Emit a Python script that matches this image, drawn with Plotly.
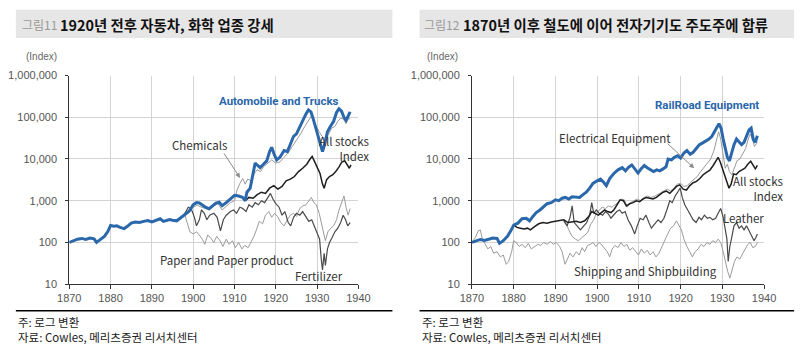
import plotly.graph_objects as go

W, H = 811, 352

# ---------------- Left chart data (그림11) ----------------
auto_years = [1870, 1871, 1872, 1873, 1874, 1875, 1876, 1876.6, 1877.5, 1878.5, 1879.3, 1880, 1880.8, 1881.5, 1882.3,
              1883.3, 1884, 1885, 1886, 1887, 1888, 1889, 1890, 1891, 1892, 1892.8, 1893.5, 1894.3, 1895, 1896,
              1897, 1898, 1899, 1900, 1900.8, 1901.5, 1902.2, 1903, 1903.8, 1904.5, 1905.5, 1906.3, 1907, 1908,
              1909, 1910, 1911, 1912, 1912.6, 1913, 1913.8, 1914.5, 1915, 1915.6, 1916.2, 1917, 1917.8, 1918.5,
              1919, 1919.6, 1920.2, 1921, 1922, 1922.8, 1923.5, 1924.3, 1925, 1925.8, 1926.6, 1927.3, 1927.9,
              1928.5, 1929, 1929.6, 1930.2, 1930.8, 1931.3, 1931.8, 1932.5, 1933.2, 1934, 1934.7, 1935.3, 1935.9,
              1936.5, 1937, 1937.5, 1938]
auto_vals = [100, 112, 120, 125, 118, 128, 122, 100, 115, 140, 180, 255, 245, 250, 230,
             215, 240, 290, 310, 300, 320, 335, 310, 345, 370, 320, 330, 355, 340, 330,
             390, 460, 560, 800, 900, 880, 780, 700, 640, 720, 880, 920, 760, 900,
             1100, 1350, 1300, 1200, 1000, 1600, 2000, 4500, 8000, 7000, 6200, 7500, 9000, 15000,
             19000, 13000, 9500, 11000, 16000, 15000, 22000, 35000, 40000, 60000, 90000, 120000, 150000,
             135000, 95000, 60000, 40000, 25000, 15000, 22000, 45000, 60000, 80000, 130000, 160000, 140000,
             100000, 85000, 110000, 135000]

chem_years = [1898, 1899, 1900, 1901, 1902, 1903, 1904, 1905, 1906, 1907, 1908, 1909, 1910, 1910.6, 1911.3,
              1912, 1912.6, 1913.2, 1914, 1914.8, 1915.5, 1916.3, 1917, 1918, 1919, 1920, 1921, 1922, 1923,
              1924, 1925, 1926, 1927, 1928, 1928.7, 1929.2, 1929.8, 1930.5, 1931.2, 1932, 1932.8, 1933.5,
              1934.3, 1935, 1935.7, 1936.4, 1937, 1937.6, 1938]
chem_vals = [450, 520, 700, 780, 700, 650, 600, 750, 850, 600, 750, 900, 1000, 1800, 2600,
             3400, 2500, 3300, 3000, 4500, 5500, 5000, 6500, 8000, 9500, 8000, 8500, 11000, 14000,
             20000, 28000, 40000, 60000, 90000, 110000, 80000, 60000, 45000, 35000, 30000, 40000, 55000,
             60000, 80000, 95000, 90000, 70000, 95000, 90000]

left_all_years = [1912.6, 1913.5, 1914.5, 1915.5, 1916.5, 1917.5, 1918.5, 1919.5, 1920.5, 1921.5, 1922.5, 1923.5,
                  1924.5, 1925.5, 1926.5, 1927.5, 1928.3, 1928.8, 1929.3, 1930, 1930.7, 1931.3, 1931.7, 1932.3,
                  1933, 1933.8, 1934.5, 1935.3, 1936, 1936.7, 1937.3, 1937.8, 1938.2]
left_all_vals = [1000, 1200, 1150, 1400, 1600, 1500, 2000, 2300, 1900, 2200, 3000, 3300,
                 3800, 5000, 6000, 7500, 10000, 11500, 9000, 6500, 4500, 2500, 2000, 3200,
                 3800, 4200, 5000, 6500, 8500, 9000, 7000, 6000, 7200]

fert_years = [1898, 1898.8, 1899.5, 1900.3, 1900.8, 1901.5, 1902, 1902.7, 1903.3, 1904, 1905, 1905.8, 1906.6,
              1907.3, 1908, 1909, 1909.8, 1910.5, 1911.3, 1912, 1912.8, 1913.5, 1914.3, 1915, 1915.8, 1916.5,
              1917.3, 1918, 1918.7, 1919.3, 1920, 1920.8, 1921.5, 1922.2, 1923, 1923.6, 1924.3, 1925, 1925.8,
              1926.5, 1927.3, 1928, 1928.7, 1929.3, 1930, 1930.6, 1931, 1931.3, 1931.7, 1932, 1932.5, 1933,
              1933.6, 1934.3, 1935, 1935.7, 1936.3, 1936.9, 1937.4, 1938]
fert_vals = [500, 700, 650, 400, 250, 350, 600, 500, 350, 450, 500, 400, 190,
             350, 450, 550, 600, 500, 700, 650, 550, 800, 700, 900, 800, 1000,
             900, 1200, 1500, 1100, 850, 700, 450, 550, 300, 250, 400, 500, 450,
             550, 400, 320, 350, 250, 180, 120, 40, 22, 55, 28, 70, 100,
             130, 180, 220, 300, 450, 350, 250, 300]

paper_years = [1898, 1898.6, 1899.2, 1900, 1900.8, 1901.5, 1902.2, 1902.8, 1903.5, 1904.2, 1905, 1905.7, 1906.5,
               1907.2, 1908, 1908.7, 1909.5, 1910.2, 1911, 1911.8, 1912.5, 1913.3, 1914, 1914.7, 1915.3, 1916,
               1916.8, 1917.5, 1918.3, 1919, 1919.7, 1920.4, 1921.2, 1922, 1922.8, 1923.5, 1924.3, 1925, 1925.8,
               1926.5, 1927.3, 1928, 1928.6, 1929.2, 1929.8, 1930.5, 1931, 1931.5, 1932, 1932.6, 1933.3, 1934,
               1934.7, 1935.3, 1936, 1936.5, 1937, 1937.5, 1938]
paper_vals = [450, 300, 180, 160, 180, 150, 120, 90, 150, 130, 100, 140, 110,
              80, 120, 90, 110, 75, 100, 70, 85, 75, 100, 140, 200, 320,
              280, 450, 550, 400, 500, 420, 300, 250, 350, 450, 500, 420, 650,
              750, 800, 1000, 1200, 900, 800, 500, 300, 160, 110, 180, 220, 250,
              350, 600, 900, 1300, 700, 450, 650]

# ---------------- Right chart data (그림12) ----------------
rail_years = [1870, 1871, 1872, 1873, 1874, 1875, 1876, 1876.6, 1877.5, 1878.5, 1879.3, 1880, 1881, 1882, 1883,
              1883.8, 1884.6, 1885.4, 1886.3, 1887, 1888, 1889, 1890, 1890.8, 1891.6, 1892.4, 1893.2, 1894,
              1895, 1895.8, 1896.6, 1897.4, 1898.2, 1899, 1900, 1900.8, 1901.5, 1902.2, 1903, 1904, 1905,
              1906, 1906.8, 1907.5, 1908.3, 1909, 1909.8, 1910.5, 1911.3, 1912, 1912.8, 1913.5, 1914.3, 1915,
              1915.8, 1916.5, 1917, 1917.8, 1918.5, 1919.3, 1920, 1920.8, 1921.5, 1922.3, 1923, 1923.8, 1924.5,
              1925.2, 1926, 1926.8, 1927.5, 1928.2, 1928.8, 1929.2, 1929.7, 1930.2, 1930.7, 1931.2, 1931.7,
              1932.2, 1932.8, 1933.4, 1934, 1934.6, 1935.2, 1935.8, 1936.4, 1936.9, 1937.4, 1937.9, 1938.4]
rail_vals = [100, 110, 118, 112, 120, 128, 125, 95, 110, 140, 190, 260, 290, 370, 380,
             330, 420, 520, 600, 700, 850, 900, 1050, 1000, 1150, 1200, 1100, 1250,
             1250, 1200, 1400, 1600, 2000, 2600, 3000, 3300, 2800, 2300, 3400, 4500, 5500,
             6200, 5200, 6300, 7200, 6000, 4600, 5800, 7000, 6200, 5400, 5000, 5500, 5200,
             5800, 6500, 10000, 9500, 11000, 12000, 10500, 14000, 16000, 13000, 14500, 18000, 22000,
             24000, 27000, 30000, 35000, 45000, 60000, 70000, 55000, 30000, 18000, 11000, 9000,
             14000, 22000, 30000, 25000, 22000, 25000, 35000, 50000, 55000, 30000, 25000, 36000]

right_all_years = [1880, 1880.8, 1881.6, 1882.5, 1883.3, 1884, 1885, 1886, 1887, 1888, 1889, 1890, 1891, 1892,
                   1893, 1894, 1895, 1896, 1897, 1898, 1898.7, 1899.5, 1900.3, 1901, 1901.8, 1902.5, 1903.3,
                   1904, 1904.8, 1905.5, 1906.3, 1907, 1907.8, 1908.6, 1909.4, 1910.2, 1911, 1911.8, 1912.6,
                   1913.4, 1914.2, 1915, 1915.8, 1916.6, 1917.4, 1918.2, 1919, 1919.8, 1920.6, 1921.4, 1922.2,
                   1923, 1923.8, 1924.6, 1925.4, 1926.2, 1927, 1927.8, 1928.5, 1929, 1929.5, 1930, 1930.6,
                   1931.1, 1931.6, 1932.1, 1932.7, 1933.3, 1934, 1934.7, 1935.4, 1936.1, 1936.8, 1937.4,
                   1937.9, 1938.4]
right_all_vals = [260, 230, 220, 210, 220, 200, 240, 280, 300, 290, 310, 320, 330, 350,
                  300, 310, 320, 300, 330, 420, 550, 500, 450, 520, 600, 550, 520,
                  600, 800, 1050, 1000, 750, 850, 900, 1000, 950, 1100, 1200, 1150,
                  1100, 1200, 1400, 1600, 1700, 1500, 1800, 2200, 2400, 1900, 1800, 2300,
                  2700, 2900, 3400, 4200, 4800, 5400, 7000, 9000, 11000, 8500, 6000, 4500,
                  3000, 2000, 2500, 4400, 4200, 5000, 5500, 6000, 7500, 8800, 7000,
                  5800, 7000]

elec_years = [1892, 1892.6, 1893.2, 1894, 1894.8, 1895.5, 1896.3, 1897, 1897.7, 1898.5, 1899.2, 1899.8, 1900.5,
              1901.2, 1902, 1902.7, 1903.5, 1904.3, 1905, 1905.8, 1906.5, 1907.2, 1908, 1908.8, 1909.6, 1910.4,
              1911.2, 1912, 1912.8, 1913.6, 1914.4, 1915.2, 1916, 1916.8, 1917.6, 1918.4, 1919.2, 1920, 1920.8,
              1921.6, 1922.4, 1923.2, 1924, 1924.8, 1925.6, 1926.4, 1927.2, 1928, 1928.6, 1929.1, 1929.6,
              1930.2, 1930.7, 1931.2, 1931.7, 1932.3, 1932.9, 1933.5, 1934.2, 1934.9, 1935.6, 1936.2, 1936.7,
              1937.2, 1937.7, 1938.4]
elec_vals = [350, 280, 200, 140, 120, 110, 130, 150, 170, 280, 350, 500, 600,
             700, 650, 750, 700, 800, 900, 1100, 1050, 700, 900, 1000, 1100, 1000,
             1200, 1300, 1200, 1250, 1400, 1500, 1700, 1900, 1700, 2000, 2500, 2600, 2200,
             2300, 2800, 3300, 3800, 5000, 6200, 8000, 10000, 16000, 28000, 45000, 30000,
             12000, 6000, 7500, 5000, 4200, 6500, 9000, 10000, 13000, 18000, 30000, 40000,
             30000, 20000, 25000]

leather_years = [1892, 1892.8, 1893.5, 1894, 1894.5, 1895.2, 1896, 1896.8, 1897.5, 1898.2, 1898.7, 1899.2, 1899.8,
                 1900.5, 1901.3, 1902, 1902.7, 1903.3, 1904, 1904.7, 1905.4, 1906, 1906.7, 1907.4, 1908.2, 1909,
                 1909.6, 1910.3, 1911, 1911.7, 1912.4, 1913, 1913.8, 1914.6, 1915.3, 1916, 1916.7, 1917.4, 1918,
                 1918.7, 1919.3, 1919.9, 1920.4, 1921, 1921.7, 1922.4, 1923, 1923.7, 1924.4, 1925, 1925.7,
                 1926.4, 1927, 1927.7, 1928.4, 1929, 1929.6, 1930.2, 1930.7, 1931.1, 1931.4, 1931.8, 1932.3,
                 1932.8, 1933.4, 1934, 1934.6, 1935.2, 1935.8, 1936.4, 1937, 1937.6, 1938, 1938.4]
leather_vals = [330, 250, 400, 750, 300, 250, 200, 250, 300, 450, 900, 500, 600,
                500, 450, 550, 480, 380, 450, 550, 600, 500, 550, 350, 250, 160,
                250, 380, 350, 450, 300, 220, 280, 350, 300, 380, 600, 1000, 900,
                1300, 1600, 2000, 1200, 800, 600, 450, 350, 300, 400, 350, 450,
                380, 400, 350, 380, 500, 650, 400, 200, 120, 35, 80, 140,
                250, 300, 220, 250, 200, 250, 190, 150, 110, 130, 160]

ship_years = [1870, 1870.8, 1871.5, 1872, 1872.5, 1873.2, 1873.8, 1874.5, 1875.2, 1876, 1876.8, 1877.5, 1878.2,
              1878.8, 1879.5, 1880, 1880.6, 1881.3, 1882, 1882.8, 1883.5, 1884.2, 1885, 1885.8, 1886.5, 1887.2,
              1888, 1888.8, 1889.5, 1890.2, 1891, 1891.6, 1892.3, 1892.9, 1893.5, 1894.2, 1895, 1895.7, 1896.4,
              1897, 1897.7, 1898.4, 1899, 1899.7, 1900.4, 1901, 1901.7, 1902.4, 1903, 1903.6, 1904.3, 1905,
              1905.7, 1906.4, 1907.1, 1907.8, 1908.5, 1909.2, 1909.9, 1910.6, 1911.3, 1912, 1912.7, 1913.4,
              1914.1, 1914.8, 1915.5, 1916.2, 1916.9, 1917.6, 1918.3, 1919, 1919.6, 1920.2, 1920.8, 1921.5,
              1922.2, 1922.8, 1923.5, 1924.2, 1924.9, 1925.6, 1926.3, 1927, 1927.7, 1928.4, 1929, 1929.6,
              1930.2, 1930.8, 1931.3, 1931.8, 1932.3, 1932.9, 1933.5, 1934.2, 1934.9, 1935.5, 1936.1, 1936.7,
              1937.3, 1937.9, 1938.4]
ship_vals = [100, 130, 190, 200, 120, 90, 70, 80, 55, 60, 45, 50, 30,
             35, 60, 110, 100, 80, 90, 75, 95, 70, 80, 90, 85, 100,
             90, 105, 90, 100, 80, 60, 30, 40, 55, 45, 60, 50, 75,
             60, 85, 90, 100, 80, 100, 90, 75, 60, 45, 70, 85, 75,
             100, 80, 90, 65, 75, 60, 50, 70, 55, 65, 50, 60,
             45, 55, 80, 120, 160, 220, 250, 330, 250, 200, 120, 80,
             60, 45, 60, 70, 90, 80, 100, 90, 110, 100, 120, 100,
             60, 30, 20, 14, 20, 35, 45, 40, 55, 70, 90, 100,
             75, 80, 100]

# ---------------- Axis ticks ----------------
y_tickvals = [10, 100, 1000, 10000, 100000, 1000000]
y_ticktext = ["10", "100", "1,000", "10,000", "100,000", "1,000,000"]
x_tickvals = [1870, 1880, 1890, 1900, 1910, 1920, 1930, 1940]
x_ticktext = ["1870", "1880", "1890", "1900", "1910", "1920", "1930", "1940"]

BLUE = "#2a67ab"
BLACK = "#1e1e1e"
DARK = "#4a4a4a"
LIGHT = "#9a9a9a"


def pxx(x):
    return x / W


def pxy(y):
    return 1 - y / H


fig = go.Figure()


def add(xs, ys, color, width, axis, dash="solid"):
    xa, ya = axis
    fig.add_trace(go.Scatter(x=xs, y=ys, mode="lines", xaxis=xa, yaxis=ya,
                             line=dict(color=color, width=width, dash=dash),
                             showlegend=False, hoverinfo="skip"))


L = ("x", "y")
R = ("x2", "y2")
add(paper_years, paper_vals, LIGHT, 1, L)
add(chem_years, chem_vals, LIGHT, 1, L)
add(fert_years, fert_vals, DARK, 1.2, L)
add(left_all_years, left_all_vals, BLACK, 1.5, L)
add(auto_years, auto_vals, BLUE, 3, L)

add(ship_years, ship_vals, LIGHT, 1, R)
add(elec_years, elec_vals, LIGHT, 1, R)
add(leather_years, leather_vals, DARK, 1.2, R)
add(right_all_years, right_all_vals, BLACK, 1.5, R)
add(rail_years, rail_vals, BLUE, 3, R)

tickfont = dict(family="Liberation Sans Narrow, Arial Narrow, sans-serif", size=11, color="#555555")
ydom = [1 - 288 / H, 1 - 72 / H]

yax = dict(type="log", range=[1, 6], tickvals=y_tickvals, ticktext=y_ticktext, showgrid=True,
           gridcolor="#d3d3d3", gridwidth=1, showline=True, linecolor="#333333", linewidth=1,
           ticks="outside", ticklen=3, tickcolor="#333333", tickfont=tickfont, zeroline=False,
           domain=ydom, ticklabelstandoff=6)
xax = dict(range=[1870, 1940], tickvals=x_tickvals, ticktext=x_ticktext, showgrid=True,
           gridcolor="#d3d3d3", gridwidth=1, showline=True, linecolor="#333333", linewidth=1,
           ticks="outside", ticklen=4, tickcolor="#333333", tickfont=tickfont, zeroline=False)

fig.update_layout(
    width=W, height=H, margin=dict(l=0, r=0, t=0, b=0),
    paper_bgcolor="white", plot_bgcolor="white",
    xaxis=dict(xax, domain=[59 / W, 357 / W], anchor="y"),
    yaxis=dict(yax, anchor="x"),
    xaxis2=dict(xax, domain=[474 / W, 775 / W], anchor="y2"),
    yaxis2=dict(yax, anchor="x2"),
)

# title bars and footer lines
shapes = []
for x0, x1 in [(4, 392), (420, 806)]:
    shapes.append(dict(type="rect", xref="paper", yref="paper", x0=pxx(x0), x1=pxx(x1), y0=pxy(33), y1=pxy(4),
                       fillcolor="#e6e6e6", line=dict(width=0), layer="below"))
    shapes.append(dict(type="line", xref="paper", yref="paper", x0=pxx(x0), x1=pxx(x1), y0=pxy(315.5),
                       y1=pxy(315.5), line=dict(color="black", width=1.5)))
fig.update_layout(shapes=shapes)

KR = "Noto Sans CJK KR, sans-serif"
TXT = "Noto Sans CJK KR, Noto Sans, sans-serif"
ann = []


def text(x, y, s, size=11, color="#333333", xanchor="center", bold=False, family=TXT, align="center"):
    ann.append(dict(xref="paper", yref="paper", x=pxx(x), y=pxy(y), text=("<b>%s</b>" % s) if bold else s,
                    showarrow=False, xanchor=xanchor, yanchor="middle", align=align,
                    font=dict(size=size, color=color, family=family)))


def arrow(hx, hy, tx, ty):
    ann.append(dict(xref="paper", yref="paper", x=pxx(hx), y=pxy(hy), ax=tx - hx, ay=ty - hy, text="",
                    showarrow=True, arrowhead=2, arrowsize=1, arrowwidth=1, arrowcolor="#8a8a8a"))


# titles
text(8, 19, "그림11", size=12, color="#9a9a9a", xanchor="left", family=KR)
text(47, 19, "1920년 전후 자동차, 화학 업종 강세", size=14.4, color="#111111", xanchor="left", bold=True, family=KR)
text(423, 19, "그림12", size=12, color="#9a9a9a", xanchor="left", family=KR)
text(463, 19, "1870년 이후 철도에 이어 전자기기도 주도주에 합류", size=14.4, color="#111111", xanchor="left",
     bold=True, family=KR)
text(12, 52, "(Index)", size=10, color="#666666", xanchor="left", family="Liberation Sans Narrow, sans-serif")
text(426, 52, "(Index)", size=10, color="#666666", xanchor="left", family="Liberation Sans Narrow, sans-serif")

# left chart labels
text(275, 98, "Automobile and Trucks", size=11.5, color=BLUE, bold=True, family="Roboto, sans-serif")
text(193, 144, "Chemicals", size=11.5)
arrow(235, 178, 218, 152)
text(370, 148, "All stocks<br>Index", size=11.5, xanchor="right", align="right")
text(222, 263, "Paper and Paper product", size=11.5)
text(316, 280, "Fertilizer", size=11.5)

# right chart labels
text(716, 103, "RailRoad Equipment", size=11.5, color=BLUE, bold=True, family="Roboto, sans-serif")
text(621, 137, "Electrical Equipment", size=11.5)
arrow(703, 168, 675, 142)
text(797, 189, "All stocks<br>Index", size=11.5, xanchor="right", align="right")
text(754, 219, "Leather", size=11.5)
text(653, 274, "Shipping and Shipbuilding", size=11.5)

# footers
for x0 in [4, 420]:
    text(x0, 327, "주: 로그 변환", size=11.5, color="#222222", xanchor="left", family=KR)
    text(x0, 343, "자료: Cowles, 메리츠증권 리서치센터", size=11.5, color="#222222", xanchor="left", family=KR)

fig.update_layout(annotations=ann)
fig.write_html("out.html")
